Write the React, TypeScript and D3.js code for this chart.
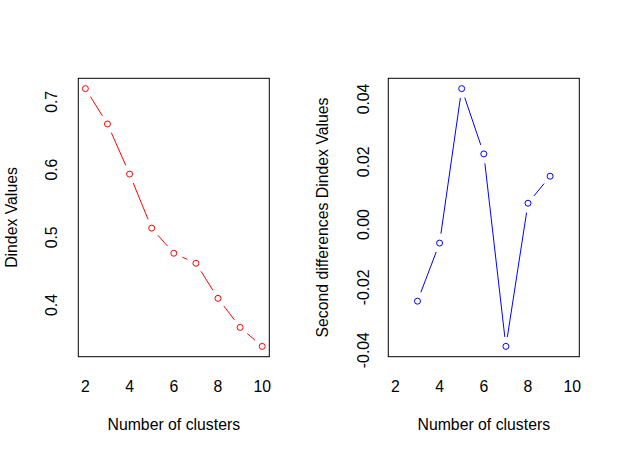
import React from "react";
import * as d3 from "d3";

const clusters = [2, 3, 4, 5, 6, 7, 8, 9, 10];
const dindex = [0.7195, 0.6673, 0.5933, 0.5135, 0.4765, 0.4617, 0.4099, 0.367, 0.339];
const diffClusters = [3, 4, 5, 6, 7, 8, 9];
const secondDiff = [-0.0244, -0.0059, 0.0433, 0.0225, -0.0388, 0.0068, 0.0154];
const xTicks = [2, 4, 6, 8, 10];
const leftYTicks = [0.4, 0.5, 0.6, 0.7];
const rightYTicks = [-0.04, -0.02, 0.0, 0.02, 0.04];

const FONT = "'Liberation Sans', Arial, sans-serif";
const FS = 15.8;
const TOP = 78.3;
const BOTTOM = 356.7;

function padDomain(min: number, max: number): [number, number] {
  const p = (max - min) * 0.04;
  return [min - p, max + p];
}

type PanelProps = {
  left: number;
  right: number;
  xs: number[];
  ys: number[];
  color: string;
  yTicks: number[];
  yFmt: (v: number) => string;
  yTickX: number;
  yLabel: string;
  yLabelX: number;
};

function Panel(p: PanelProps) {
  const x = d3.scaleLinear().domain(padDomain(2, 10)).range([p.left, p.right]);
  const [ymin, ymax] = d3.extent(p.ys) as [number, number];
  const y = d3.scaleLinear().domain(padDomain(ymin, ymax)).range([BOTTOM, TOP]);
  const pts = p.xs.map((v, i) => [x(v), y(p.ys[i])]);
  const gap = 9.5;
  const segs: JSX.Element[] = [];
  for (let i = 0; i < pts.length - 1; i++) {
    const [x1, y1] = pts[i];
    const [x2, y2] = pts[i + 1];
    const dx = x2 - x1, dy = y2 - y1;
    const len = Math.hypot(dx, dy);
    if (len <= 2 * gap) continue;
    const ux = dx / len, uy = dy / len;
    segs.push(
      <line key={i} x1={x1 + ux * gap} y1={y1 + uy * gap} x2={x2 - ux * gap} y2={y2 - uy * gap}
        stroke={p.color} strokeWidth={1} />
    );
  }
  const midY = (TOP + BOTTOM) / 2;
  const midX = (p.left + p.right) / 2;
  return (
    <g>
      <rect x={p.left} y={TOP} width={p.right - p.left} height={BOTTOM - TOP} fill="none" stroke="#000" strokeWidth={1} />
      {segs}
      {pts.map(([cx, cy], i) => (
        <circle key={i} cx={cx} cy={cy} r={3} fill="none" stroke={p.color} strokeWidth={1} />
      ))}
      {xTicks.map((t) => (
        <text key={t} x={x(t)} y={386.7} textAnchor="middle" dominantBaseline="central"
          fontFamily={FONT} fontSize={FS} fill="#000">{t}</text>
      ))}
      {p.yTicks.map((t) => (
        <text key={t} transform={`translate(${p.yTickX},${y(t)}) rotate(-90)`} textAnchor="middle"
          dominantBaseline="central" fontFamily={FONT} fontSize={FS} fill="#000">{p.yFmt(t)}</text>
      ))}
      <text x={midX} y={424.5} textAnchor="middle" dominantBaseline="central" fontFamily={FONT} fontSize={FS} fill="#000">
        Number of clusters
      </text>
      <text transform={`translate(${p.yLabelX},${midY}) rotate(-90)`} textAnchor="middle" dominantBaseline="central"
        fontFamily={FONT} fontSize={FS} fill="#000">{p.yLabel}</text>
    </g>
  );
}

export default function App() {
  return (
    <svg width={620} height={455} style={{ position: "absolute", left: 0, top: 0, background: "#fff" }}>
      <rect x={0} y={0} width={620} height={455} fill="#fff" />
      <Panel left={78.3} right={269.3} xs={clusters} ys={dindex} color="#ff0000"
        yTicks={leftYTicks} yFmt={(v) => d3.format(".1f")(v)} yTickX={51} yLabel="Dindex Values" yLabelX={11} />
      <Panel left={388.3} right={579.3} xs={diffClusters} ys={secondDiff} color="#0000ff"
        yTicks={rightYTicks} yFmt={(v) => d3.format(".2f")(v).replace("−", "-")} yTickX={363.3}
        yLabel="Second differences Dindex Values" yLabelX={322} />
    </svg>
  );
}
